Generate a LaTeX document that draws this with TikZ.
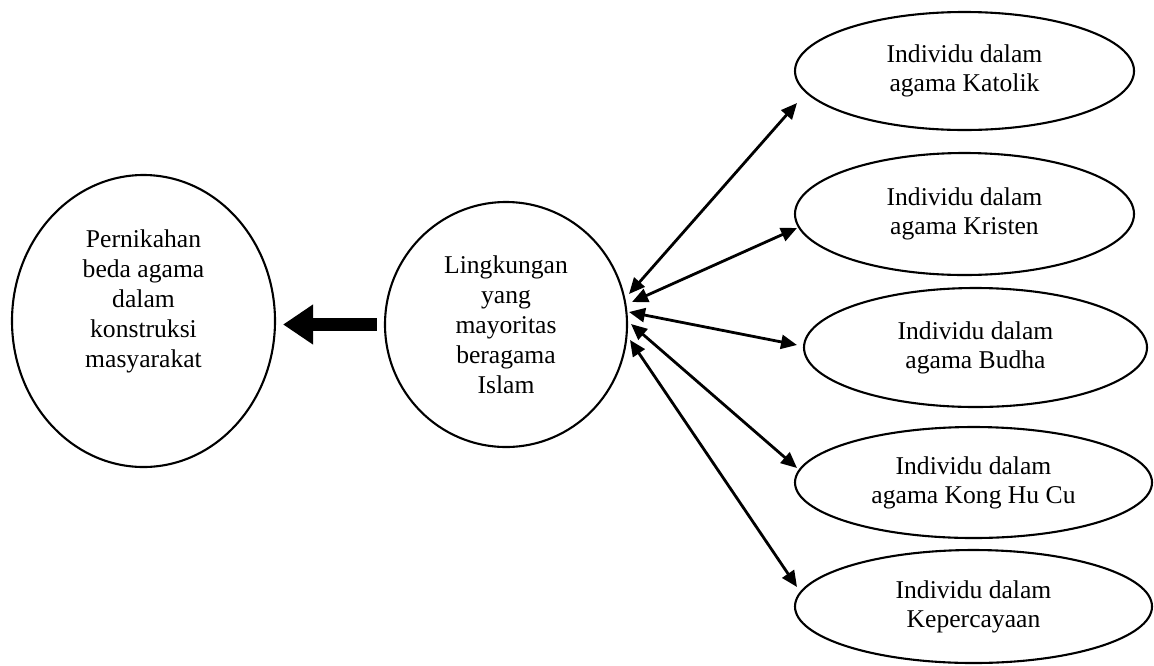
\documentclass[tikz,border=0pt]{standalone}
\usepackage{fontspec}
\setmainfont{Liberation Serif}
\usetikzlibrary{shapes.geometric,arrows.meta}
\begin{document}
\begin{tikzpicture}[x=0.5pt,y=-0.5pt,
  oval/.style={draw=black, line width=1.05pt, ellipse, inner sep=0pt, align=center,
    font=\fontsize{12.8pt}{14.5pt}\selectfont},
  txt/.style={align=center, inner sep=0pt, font=\fontsize{12.8pt}{15pt}\selectfont},
  link/.style={line width=1.4pt, {Triangle[length=8pt,width=7pt]}-{Triangle[length=8pt,width=7pt]}},
  bigarrow/.style={line width=6.5pt, -{Triangle[length=15pt,width=19pt]}}]
\useasboundingbox (0,0) rectangle (1154,665);
% main ellipses
\node[oval, minimum width=131.5pt, minimum height=146pt] (left) at (143.5,321) {};
\node[txt] (lefttext) at (143.5,301) {Pernikahan\\beda agama\\dalam\\konstruksi\\masyarakat};
\node[oval, minimum width=121pt, minimum height=122.5pt, font=\fontsize{12.8pt}{15pt}\selectfont] (mid) at (506,324.5)
  {Lingkungan\\yang\\mayoritas\\beragama\\Islam};
% right ellipses
\node[oval, minimum width=169.5pt, minimum height=59pt] (kat) at (964.5,71) {Individu dalam\\agama Katolik};
\node[oval, minimum width=169.5pt, minimum height=61pt] (kri) at (964.5,214) {Individu dalam\\agama Kristen};
\node[oval, minimum width=171.5pt, minimum height=59.5pt] (bud) at (975.5,347.5) {Individu dalam\\agama Budha};
\node[oval, minimum width=178.5pt, minimum height=55.5pt] (kong) at (973.5,482.5) {Individu dalam\\agama Kong Hu Cu};
\node[oval, minimum width=178.5pt, minimum height=56.5pt] (kep) at (973.5,606.5) {Individu dalam\\Kepercayaan};
% connector ends
\coordinate (m1) at (629,294);
\coordinate (m2) at (632,302);
\coordinate (m3) at (629,312);
\coordinate (m4) at (631,324);
\coordinate (m5) at (630,340);
\coordinate (e1) at (797,103);
\coordinate (e2) at (797,228);
\coordinate (e3) at (797,345);
\coordinate (e4) at (797,468);
\coordinate (e5) at (797,587);
\draw[link] (m1) -- (e1);
\draw[link] (m2) -- (e2);
\draw[link] (m3) -- (e3);
\draw[link] (m4) -- (e4);
\draw[link] (m5) -- (e5);
% thick arrow
\draw[bigarrow, shorten <=3.5pt, shorten >=3.5pt] (mid.west) -- (mid.west -| left.east);
\end{tikzpicture}
\end{document}
